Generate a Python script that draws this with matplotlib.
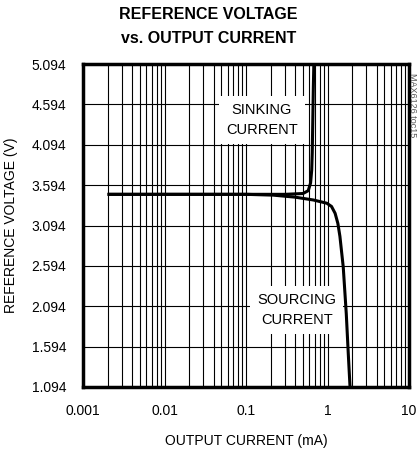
import numpy as np
import matplotlib
matplotlib.use("Agg")
import matplotlib.pyplot as plt
from matplotlib.ticker import FixedLocator, NullFormatter

plt.rcParams['font.family'] = ['Liberation Sans', 'DejaVu Sans']

# Data
sink_i = [0.002, 0.01, 0.1, 0.3, 0.5, 0.58, 0.62, 0.64, 0.65, 0.66, 0.67, 0.68]
sink_v = [3.48, 3.48, 3.48, 3.48, 3.49, 3.525, 3.62, 3.78, 4.0, 4.4, 4.8, 5.094]
src_i = [0.002, 0.01, 0.1, 0.216, 0.4, 0.67, 0.98, 1.12, 1.24, 1.34, 1.42, 1.56, 1.7, 1.8, 1.89]
src_v = [3.48, 3.48, 3.48, 3.47, 3.445, 3.41, 3.37, 3.33, 3.245, 3.12, 2.96, 2.58, 2.0, 1.5, 1.094]
y_ticks = [1.094, 1.594, 2.094, 2.594, 3.094, 3.594, 4.094, 4.594, 5.094]
x_ticks = [0.001, 0.01, 0.1, 1, 10]
x_labels = ['0.001', '0.01', '0.1', '1', '10']

fig = plt.figure(figsize=(4.17, 4.49), dpi=100)
ax = fig.add_axes([83/417, 1-387/449, 326/417, 323/449])
ax.set_xscale('log')
ax.set_xlim(0.001, 10)
ax.set_ylim(1.094, 5.094)

minor = [m * 10.0**e for e in range(-3, 1) for m in range(2, 10)]
ax.xaxis.set_minor_locator(FixedLocator(minor))
ax.xaxis.set_minor_formatter(NullFormatter())
ax.set_xticks(x_ticks)
ax.set_xticklabels(x_labels)
ax.set_yticks(y_ticks)
ax.set_yticklabels([f'{v:.3f}' for v in y_ticks])
ax.tick_params(which='both', length=0, labelsize=10)
ax.tick_params(axis='y', pad=12)
ax.tick_params(axis='x', pad=12)
ax.grid(True, which='both', axis='x', color='black', linewidth=0.8)
ax.grid(True, which='major', axis='y', color='black', linewidth=0.8)
for s in ax.spines.values():
    s.set_linewidth(2.5)

ax.plot(sink_i, sink_v, color='black', linewidth=2.2, solid_capstyle='butt', zorder=4)
ax.plot(src_i, src_v, color='black', linewidth=2.2, solid_capstyle='butt', zorder=4)

ax.text(0.157, 4.40, 'SINKING\nCURRENT', ha='center', va='center', fontsize=10.5,
        linespacing=1.5, bbox=dict(facecolor='white', edgecolor='none', pad=5), zorder=3)
ax.text(0.42, 2.05, 'SOURCING\nCURRENT', ha='center', va='center', fontsize=10.5,
        linespacing=1.5, bbox=dict(facecolor='white', edgecolor='none', pad=5), zorder=3)

ax.set_xlabel('OUTPUT CURRENT (mA)', fontsize=10, labelpad=12)
ax.set_ylabel('REFERENCE VOLTAGE (V)', fontsize=10, labelpad=10)

fig.text(0.5, 1-26.5/449, 'REFERENCE VOLTAGE\nvs. OUTPUT CURRENT', ha='center', va='center',
         fontsize=11.5, fontweight='bold', linespacing=1.75)
fig.text(413/417, 1-105/449, 'MAX6126 toc15', rotation=270, ha='center', va='center',
         fontsize=6.5, color='#555555')

fig.savefig('out.png', dpi=100)
